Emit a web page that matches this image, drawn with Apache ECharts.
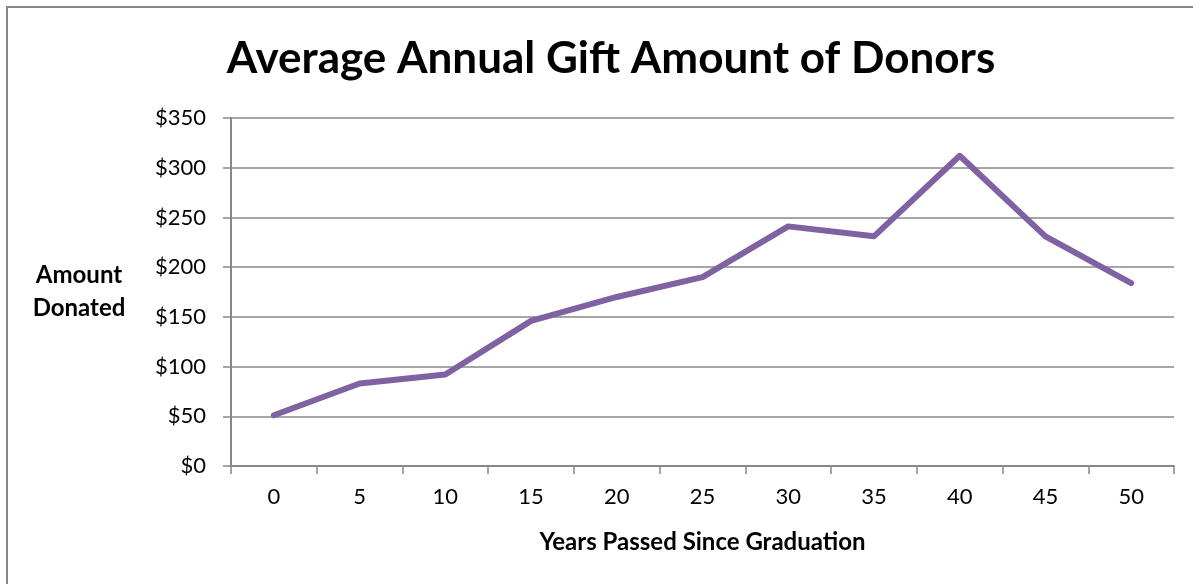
<!DOCTYPE html>
<html>
<head>
<meta charset="utf-8">
<script src="https://cdn.jsdelivr.net/npm/echarts@6/dist/echarts.min.js"></script>
<style>
  html, body { margin: 0; padding: 0; background: #fff; }
  #chart { width: 1193px; height: 584px; }
</style>
</head>
<body>
<div id="chart"></div>
<script>
// years since graduation
var years = ['0', '5', '10', '15', '20', '25', '30', '35', '40', '45', '50'];
// average gift amount in dollars
var amounts = [51, 83, 92, 146, 170, 190, 241, 231, 312, 231, 184];
var yTicks = [0, 50, 100, 150, 200, 250, 300, 350];

var font = 'Lato, "Open Sans", sans-serif';
var gray = '#888888';

var myChart = echarts.init(document.getElementById('chart'));

myChart.setOption({
  backgroundColor: '#fff',
  animation: false,
  title: {
    text: 'Average Annual Gift Amount of Donors',
    left: 606,
    textAlign: 'center',
    top: 32,
    textStyle: { fontFamily: font, fontWeight: 'bold', fontSize: 44, color: '#000' }
  },
  grid: { left: 231, right: 19, top: 118, bottom: 118 },
  xAxis: {
    type: 'category',
    data: years,
    boundaryGap: true,
    name: 'Years Passed Since Graduation',
    nameLocation: 'middle',
    nameGap: 64,
    nameTextStyle: { fontFamily: font, fontWeight: 'bold', fontSize: 24, color: '#000' },
    axisLine: { lineStyle: { color: gray, width: 2 } },
    axisTick: { show: true, length: 8, lineStyle: { color: gray, width: 1.5 } },
    axisLabel: { margin: 20, fontFamily: font, fontSize: 22, color: '#000' }
  },
  yAxis: {
    type: 'value',
    min: yTicks[0],
    max: yTicks[yTicks.length - 1],
    interval: 50,
    name: 'Amount\nDonated',
    nameLocation: 'middle',
    nameRotate: 0,
    nameGap: 152,
    nameTextStyle: { fontFamily: font, fontWeight: 'bold', fontSize: 24, color: '#000', align: 'center', lineHeight: 33 },
    axisLine: { show: true, lineStyle: { color: gray, width: 2 } },
    axisTick: { show: true, length: 8, lineStyle: { color: gray, width: 1.5 } },
    splitLine: { lineStyle: { color: gray, width: 1.5 } },
    axisLabel: {
      margin: 25,
      fontFamily: font,
      fontSize: 22,
      color: '#000',
      formatter: function (v) { return '$' + v; }
    }
  },
  series: [{
    type: 'line',
    data: amounts,
    symbol: 'none',
    lineStyle: { color: '#7F62A1', width: 6, cap: 'round', join: 'round' },
    itemStyle: { color: '#7F62A1' }
  }],
  graphic: [
    { type: 'line', shape: { x1: 7, y1: 6, x2: 7, y2: 584 }, style: { stroke: gray, lineWidth: 2 } },
    { type: 'line', shape: { x1: 6, y1: 7, x2: 1193, y2: 7 }, style: { stroke: gray, lineWidth: 2 } }
  ]
});
</script>
</body>
</html>
